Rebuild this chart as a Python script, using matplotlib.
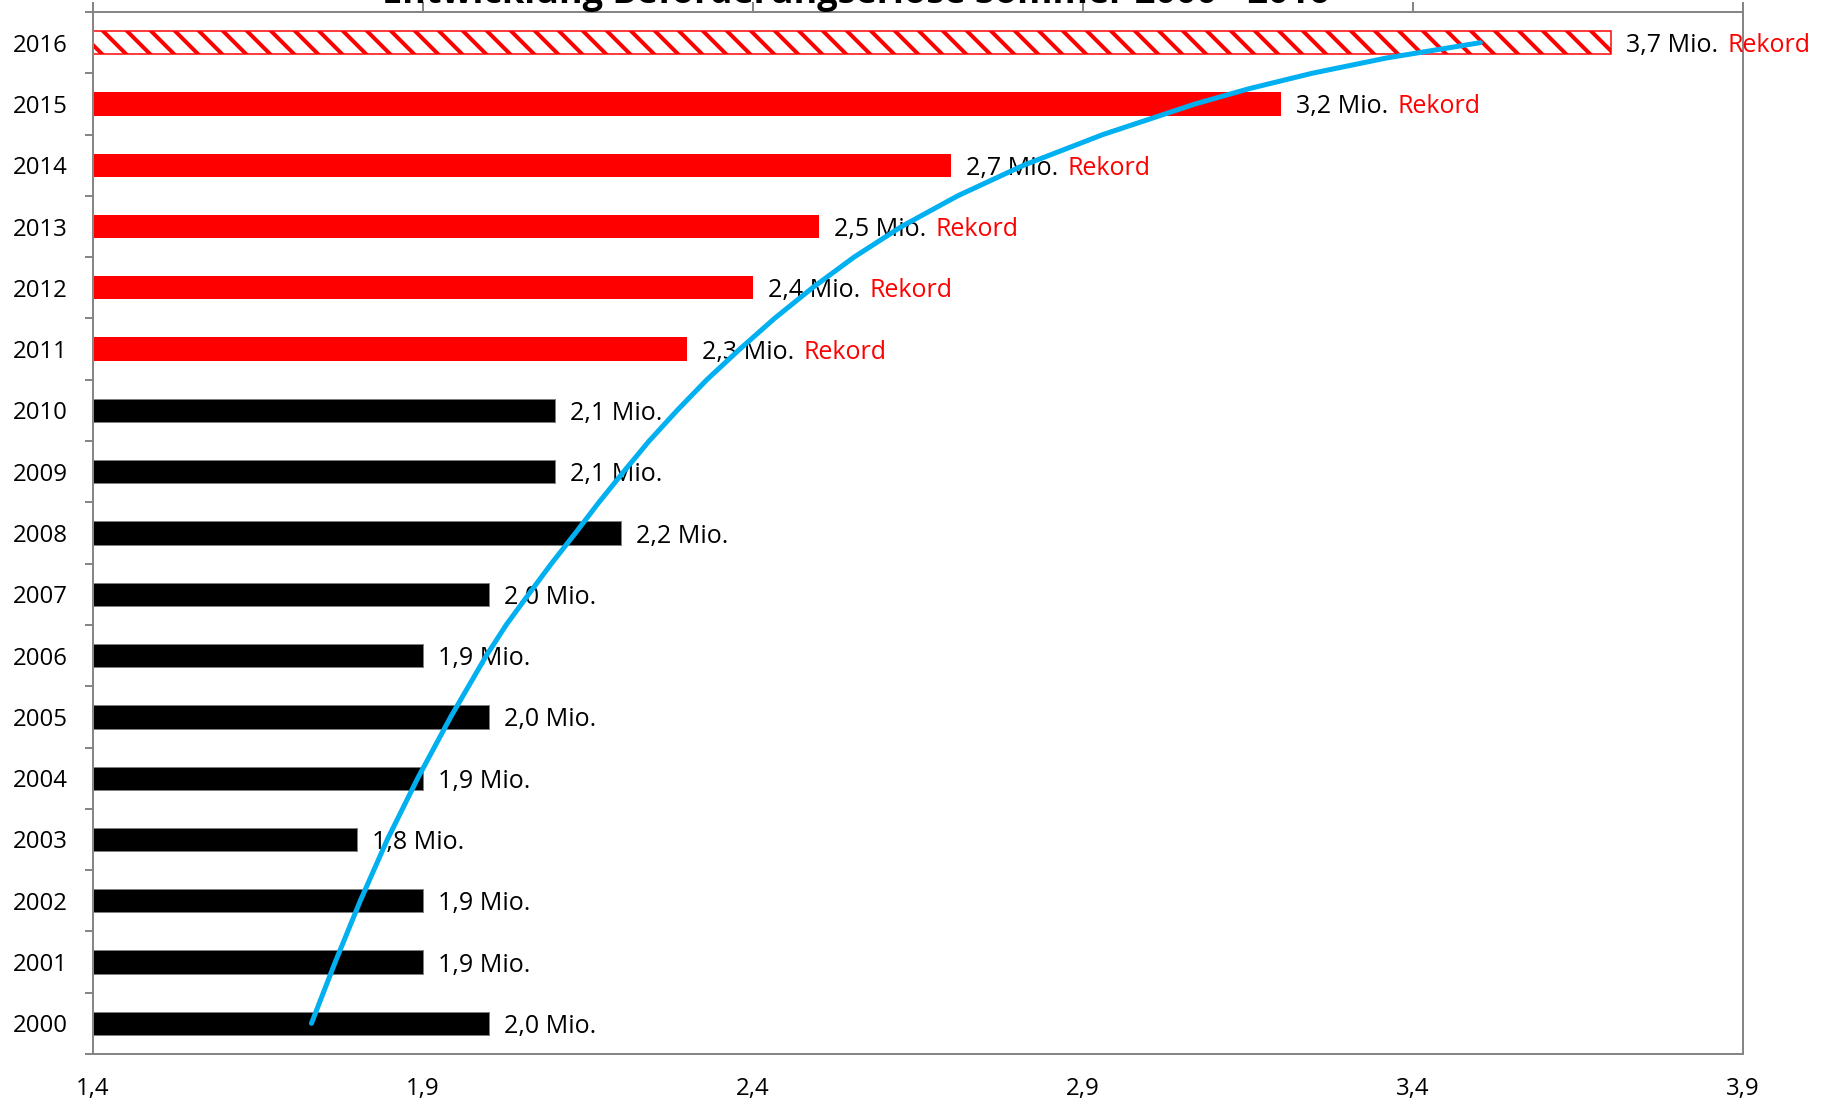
import matplotlib
matplotlib.use('Agg')
import matplotlib.pyplot as plt
import numpy as np

# data
years = ['2000', '2001', '2002', '2003', '2004', '2005', '2006', '2007', '2008',
         '2009', '2010', '2011', '2012', '2013', '2014', '2015', '2016']
values = [2.0, 1.9, 1.9, 1.8, 1.9, 2.0, 1.9, 2.0, 2.2,
          2.1, 2.1, 2.3, 2.4, 2.5, 2.7, 3.2, 3.7]
rekord = [False] * 11 + [True] * 6
x_ticks = [1.4, 1.9, 2.4, 2.9, 3.4, 3.9]

# trend curve (position on year axis, value)
trend_pos = [0, 1, 2, 3, 4, 5, 6, 6.5, 7, 7.5, 8, 8.5, 9, 9.5, 10, 10.5, 11,
             11.5, 12, 12.5, 13, 13.5, 14, 14.5, 15, 15.25, 15.5, 15.75, 16]
trend_val = [1.731, 1.767, 1.805, 1.846, 1.892, 1.942, 1.996, 2.026, 2.060,
             2.0945, 2.131, 2.1665, 2.204, 2.2425, 2.285, 2.330, 2.380,
             2.4325, 2.490, 2.553, 2.625, 2.710, 2.810, 2.930, 3.070,
             3.152, 3.247, 3.360, 3.502]

title = 'Entwicklung Beförderungserlöse Sommer 2000 - 2016'

plt.rcParams['font.family'] = ['Open Sans', 'DejaVu Sans']
plt.rcParams['hatch.linewidth'] = 4

W, H = 1826, 1101
fig = plt.figure(figsize=(W / 72, H / 72), dpi=72)
ax = fig.add_axes([93 / W, 47 / H, 1650 / W, 1042 / H])

grey = '#868686'
pos = np.arange(len(years))

for i, v in enumerate(values):
    if i == len(values) - 1:
        ax.barh(i, v, height=0.38, color='white', edgecolor='#FF0000',
                hatch='\\', linewidth=1.5)
    elif rekord[i]:
        ax.barh(i, v, height=0.38, color='#FF0000', edgecolor='none')
    else:
        ax.barh(i, v, height=0.38, color='black', edgecolor='#7f7f7f', linewidth=1)

    lab = ('%.1f' % v).replace('.', ',') + ' Mio.'
    t = ax.annotate(lab, xy=(v, i), xytext=(15, -3), textcoords='offset points',
                    va='center', ha='left', fontsize=25, color='black')
    if rekord[i]:
        ax.annotate('Rekord', xy=(1, 0.5), xycoords=t, xytext=(9, 0),
                    textcoords='offset points', va='center', ha='left',
                    fontsize=25, color='#FF0000')

ax.plot(trend_val, trend_pos, color='#00B0F0', lw=5, solid_capstyle='round',
        solid_joinstyle='round', zorder=5)

ax.set_xlim(1.4, 3.9)
ax.set_ylim(-0.5, len(years) - 0.5)

ax.set_xticks(x_ticks)
ax.set_xticklabels([('%.1f' % x).replace('.', ',') for x in x_ticks], fontsize=24)
ax.tick_params(axis='x', bottom=False, top=True, labelbottom=True, labeltop=False,
               direction='out', length=10, width=2, color=grey, pad=13)

ax.set_yticks(pos)
ax.set_yticklabels(years, fontsize=24)
ax.set_yticks(np.arange(-0.5, len(years), 1), minor=True)
ax.tick_params(axis='y', which='major', length=0, pad=25)
ax.tick_params(axis='y', which='minor', direction='out', length=8, width=2, color=grey)

for s in ax.spines.values():
    s.set_color(grey)
    s.set_linewidth(2)

fig.text(856 / W, 1 - 3 / H, title, ha='center', va='baseline',
         fontsize=36, fontweight='bold')

fig.savefig('out.png', dpi=72)
